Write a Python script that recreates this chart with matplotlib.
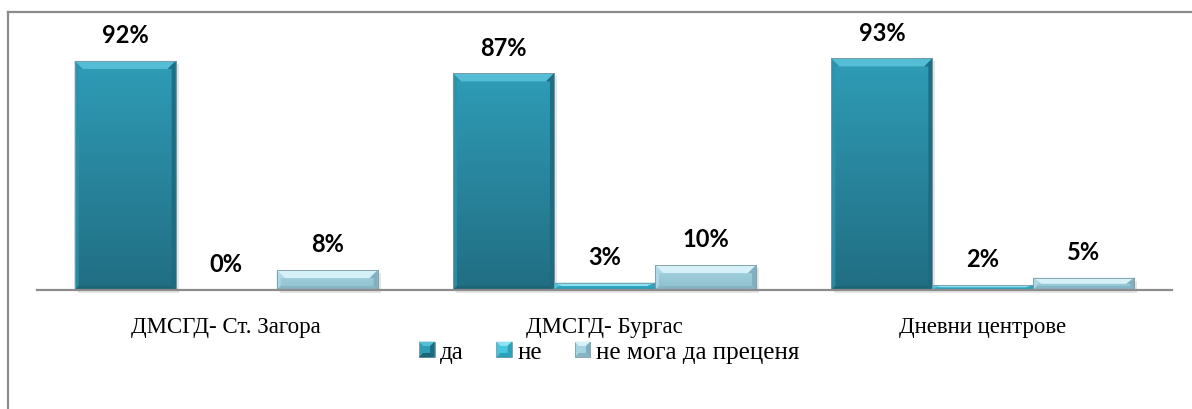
import numpy as np
import matplotlib
matplotlib.use("Agg")
import matplotlib.pyplot as plt
from matplotlib.patches import Rectangle, Polygon
from matplotlib.lines import Line2D
from matplotlib.legend_handler import HandlerBase
from matplotlib.colors import LinearSegmentedColormap
from matplotlib import font_manager as fm

# ---- data ----
categories = ["ДМСГД- Ст. Загора", "ДМСГД- Бургас", "Дневни центрове"]
series_names = ["да", "не", "не мога да преценя"]
val_da = [92, 87, 93]
val_ne = [0, 3, 2]
val_unsure = [8, 10, 5]
series_values = [val_da, val_ne, val_unsure]


def serif_props(size):
    """Regular Liberation Serif, located by file so no silent fallback."""
    for f in fm.fontManager.ttflist:
        if f.name == "Liberation Serif" and f.style == "normal" and f.weight in (400, "normal", "regular"):
            return fm.FontProperties(fname=f.fname, size=size)
    for f in fm.fontManager.ttflist:
        if "LiberationSerif-Regular" in f.fname:
            return fm.FontProperties(fname=f.fname, size=size)
    return fm.FontProperties(family="serif", size=size)


# (face top, face bottom, top bevel, left bevel, right bevel, bottom bevel)
styles = [
    ("#2f9cb6", "#216e83", "#55bdd5", "#2b93ac", "#1f6a7e", "#1d6476"),
    ("#46c7df", "#36b2cd", "#8fe2f2", "#4ccbe2", "#2f9fba", "#2c9fba"),
    ("#a6d4e1", "#8fbfcd", "#d6f0f7", "#b2dce8", "#7eaebd", "#86b5c4"),
]

W, H, DPI = 1192, 410, 100
fig = plt.figure(figsize=(W / DPI, H / DPI), dpi=DPI)
fig.patch.set_facecolor("white")

ax_left, ax_right = 37, 1172
ax_base, ax_top = 291, 42
ax = fig.add_axes([ax_left / W, (H - ax_base) / H,
                   (ax_right - ax_left) / W, (ax_base - ax_top) / H])
ax.set_xlim(-0.5, len(categories) - 0.5)
ax.set_ylim(0, 100)

for s in ["top", "right", "left"]:
    ax.spines[s].set_visible(False)
ax.spines["bottom"].set_color("#8c8c8c")
ax.spines["bottom"].set_linewidth(1.6)
ax.spines["bottom"].set_zorder(6)
ax.set_yticks([])
ax.tick_params(axis="x", length=0, pad=19)
ax.set_xticks(np.arange(len(categories)))
ax.set_xticklabels(categories, fontproperties=serif_props(16.5), color="black")

x = np.arange(len(categories))
bw = 0.267
offsets = [-bw, 0.0, bw]


def px_to_data(px, py):
    inv = ax.transData.inverted()
    a = inv.transform((0, 0))
    b = inv.transform((px, py))
    return abs(b[0] - a[0]), abs(b[1] - a[1])


def bevel(rect, st, bev=8, side=4):
    x0, y0 = rect.get_x(), rect.get_y()
    w, h = rect.get_width(), rect.get_height()
    if h <= 0:
        return
    ftop, fbot, ctop, cleft, cright, cbot = st
    # soft drop shadow
    sx, sy = px_to_data(3, 3)
    ax.add_patch(Rectangle((x0 + sx, y0 - sy), w, h, facecolor="#000000",
                           alpha=0.10, edgecolor="none", zorder=1,
                           clip_on=False))
    # face gradient
    cmap = LinearSegmentedColormap.from_list("f", [fbot, ftop])
    grad = np.linspace(0, 1, 64).reshape(-1, 1)
    im = ax.imshow(grad, cmap=cmap, aspect="auto", origin="lower",
                   extent=(x0, x0 + w, y0, y0 + h), zorder=2,
                   interpolation="bilinear")
    im.set_clip_path(rect)
    bx, by = px_to_data(bev, bev)
    by = min(by, h / 2)
    sxb, syb = px_to_data(side, side)
    syb = min(syb, h / 2)
    # top bevel
    ax.add_patch(Polygon([(x0, y0 + h), (x0 + w, y0 + h),
                          (x0 + w - bx, y0 + h - by), (x0 + bx, y0 + h - by)],
                         closed=True, facecolor=ctop, edgecolor="none",
                         zorder=3))
    # left bevel
    ax.add_patch(Polygon([(x0, y0), (x0, y0 + h), (x0 + bx, y0 + h - by),
                          (x0 + sxb, y0 + h - by), (x0 + sxb, y0 + syb)],
                         closed=True, facecolor=cleft, edgecolor="none",
                         zorder=3, alpha=0.8))
    # right bevel
    ax.add_patch(Polygon([(x0 + w, y0), (x0 + w, y0 + h),
                          (x0 + w - bx, y0 + h - by),
                          (x0 + w - sxb, y0 + h - by),
                          (x0 + w - sxb, y0 + syb)],
                         closed=True, facecolor=cright, edgecolor="none",
                         zorder=3, alpha=0.9))
    # bottom bevel
    ax.add_patch(Polygon([(x0, y0), (x0 + w, y0), (x0 + w - sxb, y0 + syb),
                          (x0 + sxb, y0 + syb)],
                         closed=True, facecolor=cbot, edgecolor="none",
                         zorder=3))
    # outline
    ax.add_patch(Rectangle((x0, y0), w, h, facecolor="none",
                           edgecolor="#7c98a2", linewidth=0.6, zorder=4))


for vals, off, st in zip(series_values, offsets, styles):
    bars = ax.bar(x + off, vals, width=bw, color="none", edgecolor="none",
                  zorder=2)
    for rect, v in zip(bars.patches, vals):
        bevel(rect, st)
        ax.annotate(f"{v}%", (rect.get_x() + rect.get_width() / 2, v),
                    xytext=(0, 13.5), textcoords="offset points",
                    ha="center", va="baseline", fontsize=17,
                    fontweight="bold", family=["Lato", "DejaVu Sans"],
                    color="black", annotation_clip=False, zorder=7)


# legend keys drawn as small bevelled squares
class BevelSquare(HandlerBase):
    def __init__(self, st):
        super().__init__()
        self.st = st

    def create_artists(self, legend, orig_handle, xdescent, ydescent,
                       width, height, fontsize, trans):
        ftop, fbot, ctop, cleft, cright, cbot = self.st
        s = min(width, height * 0.9)
        x0 = xdescent + (width - s) / 2
        y0 = -ydescent + (height - s) / 2
        b = s * 0.28
        arts = [Rectangle((x0, y0), s, s, facecolor=ftop, edgecolor="#7c98a2",
                          linewidth=0.6, transform=trans)]
        arts.append(Polygon([(x0, y0 + s), (x0 + s, y0 + s),
                             (x0 + s - b, y0 + s - b), (x0 + b, y0 + s - b)],
                            closed=True, facecolor=ctop, edgecolor="none",
                            transform=trans))
        arts.append(Polygon([(x0 + s, y0), (x0 + s, y0 + s),
                             (x0 + s - b, y0 + s - b), (x0 + s - b, y0 + b)],
                            closed=True, facecolor=cright, edgecolor="none",
                            transform=trans))
        arts.append(Polygon([(x0, y0), (x0 + s, y0), (x0 + s - b, y0 + b),
                             (x0 + b, y0 + b)],
                            closed=True, facecolor=cbot, edgecolor="none",
                            transform=trans))
        return arts


handles = [Rectangle((0, 0), 1, 1) for _ in series_names]
leg = fig.legend(handles, series_names, loc="center",
                 bbox_to_anchor=(609 / W, 1 - 353 / H), ncol=3, frameon=False,
                 prop=serif_props(18),
                 handlelength=0.63, handletextpad=0.22, columnspacing=1.3,
                 handler_map={h: BevelSquare(st)
                              for h, st in zip(handles, styles)})

# outer chart frame (top and left edges)
fig.add_artist(Line2D([8 / W, 8 / W], [1 - 12.5 / H, 0], color="#8c8c8c",
                      linewidth=1.6, transform=fig.transFigure))
fig.add_artist(Line2D([8 / W, 1], [1 - 12.5 / H, 1 - 12.5 / H],
                      color="#8c8c8c", linewidth=1.6,
                      transform=fig.transFigure))

fig.savefig("out.png", dpi=DPI, facecolor="white")
